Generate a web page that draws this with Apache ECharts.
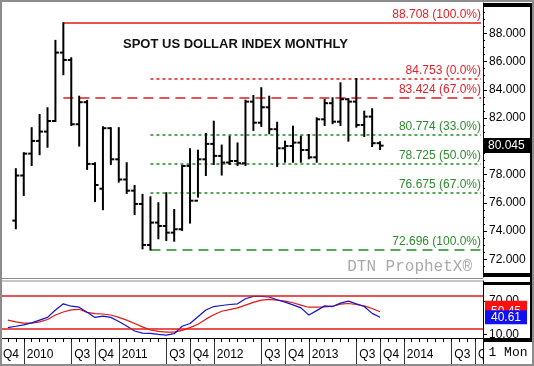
<!DOCTYPE html>
<html><head><meta charset="utf-8">
<script src="https://cdn.jsdelivr.net/npm/echarts@6/dist/echarts.min.js"></script>
<style>html,body{margin:0;padding:0;background:#fff}#c{width:534px;height:366px}</style>
</head><body><div id="c"></div>
<script>
// ---------- DATA ----------
// month categories Oct 2009 .. Nov 2014
const months = [];
(function(){ let y=2009,m=10; while(y<2014||(y===2014&&m<=11)){ months.push(y+'-'+(m<10?'0':'')+m); m++; if(m>12){m=1;y++;} } })();

const priceStart = '2009-12';   // first OHLC bar (Dec 2009 .. Oct 2013)
const priceOpen  = [74.74,77.93,79.48,80.38,81.04,81.79,86.63,86.11,81.56,83.12,78.75,77.00,81.28,79.08,77.65,76.86,75.92,73.02,74.60,74.36,73.89,74.13,78.61,76.15,79.08,80.17,79.32,78.85,78.96,78.80,83.16,81.67,82.76,81.21,79.86,80.02,80.26,79.74,79.22,81.91,83.05,81.74,83.33,83.16,81.51,82.10,80.22];
const priceHigh  = [78.38,79.51,81.28,82.22,82.69,87.46,88.708,86.23,83.51,83.21,78.80,81.35,81.28,81.28,78.80,77.19,76.56,76.39,75.97,76.68,75.49,78.61,79.79,79.69,80.87,81.74,80.05,80.68,80.20,83.23,83.56,84.11,83.51,81.67,80.33,81.39,80.68,80.80,81.98,83.28,83.40,84.46,83.33,84.753,82.45,82.62,80.28];
const priceLow   = [74.20,76.56,78.68,79.44,79.97,81.79,85.10,81.51,80.05,78.40,76.13,75.55,78.75,77.50,76.70,75.21,72.78,72.696,73.49,73.37,73.32,74.08,74.60,76.44,77.97,78.75,78.00,78.75,78.68,78.68,81.16,81.44,80.92,78.61,78.91,78.91,78.91,79.15,78.91,81.51,81.63,81.51,80.40,81.39,80.73,80.02,79.81];
const priceClose = [77.93,79.48,80.38,81.04,81.79,86.63,86.11,81.56,83.12,78.75,77.26,81.28,79.08,77.65,76.86,75.92,73.02,74.60,74.36,73.89,74.13,78.61,76.15,79.08,80.17,79.32,78.85,78.96,78.80,83.16,81.67,82.76,81.21,79.86,80.02,80.26,79.74,79.22,81.91,83.05,81.74,83.33,83.16,81.51,82.10,80.22,80.045];
const lastPrice = 80.045;

const priceTicks = [72,74,76,78,80,82,84,86,88];

const fibValues = [88.708, 84.753, 83.424, 80.774, 78.725, 76.675, 72.696];
const fibLabels = ['88.708 (100.0%)','84.753 (0.0%)','83.424 (67.0%)','80.774 (33.0%)','78.725 (50.0%)','76.675 (67.0%)','72.696 (100.0%)'];
const fibStart  = ['2010-06','2011-05','2010-06','2011-05','2011-05','2011-05','2011-05'];

const stochStart = '2009-11';   // Nov 2009 .. Oct 2013
const stochK = [22,24.4,27,30.5,35.4,40.3,53.7,64.7,60.4,58.6,49.4,40.3,42.7,40.3,33,25,15.8,12.2,11.6,9.7,8.5,11,24.4,29.3,41.5,53.7,59.8,61.7,63.5,64.7,73.9,78.2,78.2,77,72,67.8,62.9,57.4,44.6,52.5,61,59.8,66,69.6,64.7,59.8,47.6,40.61];
const stochD = [35.4,32.3,29.9,29.9,32.3,36.6,44.6,50,53.7,54.9,49.4,47,46.4,44.6,40.3,35.4,29.3,23.2,17.7,15.2,14,14,17,22,28,37.2,45.2,51.3,54.3,57.4,62.3,67.2,71.4,72.7,71.4,69.6,66.6,62.3,58.6,58.6,59.2,60.4,64.1,65.3,63.5,61,56.2,50.45];
const stochLevels = [80, 20];
const stochTicks = [10, 70];

// ---------- BUILD ----------
const FONT = '"Liberation Sans", Arial, sans-serif';
const RED = '#e3202a', REDLINE = '#e01b1b', GREEN = '#2e8b2e', GREENLINE = '#1f8a1f';

const p0 = months.indexOf(priceStart);
const ohlc = priceOpen.map((o,i)=>[p0+i, o, priceClose[i], priceLow[i], priceHigh[i]]);
const s0 = months.indexOf(stochStart);
const pad = new Array(s0).fill(null);
const kData = pad.concat(stochK);
const dData = pad.concat(stochD);
const minorTicks = [];
for (let v = priceTicks[0]-1; v <= priceTicks[priceTicks.length-1]+2; v += 0.5) if (v % 2 !== 0) minorTicks.push(v);

const fibStyle = [
  {color:REDLINE, dash:null, width:1.5, txt:RED},
  {color:REDLINE, dash:[3,3], width:1.5, txt:RED},
  {color:REDLINE, dash:[10,6], width:1.7, txt:RED},
  {color:GREENLINE, dash:[3,3], width:1.5, txt:GREEN},
  {color:GREENLINE, dash:[3,3], width:1.5, txt:GREEN},
  {color:GREENLINE, dash:[3,3], width:1.5, txt:GREEN},
  {color:GREENLINE, dash:[10,6], width:1.7, txt:GREEN}
];
const fibData = fibValues.map((v,i)=>[months.indexOf(fibStart[i]), v, i]);
const lastIdx = months.length - 1;

const isLabelMonth = (idx, val) => /-(01|07|10)$/.test(val);

const chart = echarts.init(document.getElementById('c'), null, {renderer:'canvas'});
chart.setOption({
  animation:false,
  backgroundColor:'#fff',
  title:{text:'SPOT US DOLLAR INDEX MONTHLY', left:123, top:38, padding:0,
    textStyle:{fontSize:13, fontWeight:'bold', color:'#111', fontFamily:FONT}},
  grid:[
    {left:-5, right:51, top:3, height:274},
    {left:-5, right:51, top:281, height:57},
    {left:-5, right:51, top:338, height:28}
  ],
  xAxis:[
    {type:'category', gridIndex:0, data:months, boundaryGap:false, axisLine:{show:false}, axisTick:{show:false}, axisLabel:{show:false}, splitLine:{show:false}},
    {type:'category', gridIndex:1, data:months, boundaryGap:false, axisLine:{show:true, lineStyle:{color:'#000', width:1}},
      axisTick:{show:true, length:4, interval:0, lineStyle:{color:'#000'}}, axisLabel:{show:false}, splitLine:{show:false}},
    {type:'category', gridIndex:2, data:months, boundaryGap:false, position:'top', axisLine:{show:false}, axisTick:{show:false},
      splitLine:{show:true, interval:isLabelMonth, lineStyle:{color:'#333', width:1}},
      axisLabel:{show:true, inside:true, interval:isLabelMonth, margin:11, align:'left', verticalAlign:'top', padding:[0,0,0,3],
        showMinLabel:true, showMaxLabel:true, hideOverlap:false, color:'#000', fontSize:12, fontFamily:FONT,
        formatter:(v)=>{const m=v.slice(5); return m==='01'?v.slice(0,4):(m==='07'?'Q3':'Q4');}}}
  ],
  yAxis:[
    {type:'value', gridIndex:0, position:'right', min:70.75, max:90.14, splitLine:{show:false},
      axisLine:{show:true, lineStyle:{color:'#000'}},
      axisTick:{show:true, length:4, customValues:priceTicks, lineStyle:{color:'#000'}},
      axisLabel:{show:true, customValues:priceTicks, margin:6, color:'#000', fontSize:12, fontFamily:FONT, formatter:(v)=>v.toFixed(3)}},
    {type:'value', gridIndex:0, position:'right', min:70.75, max:90.14, splitLine:{show:false},
      axisLine:{show:false}, axisTick:{show:true, length:2, customValues:minorTicks, lineStyle:{color:'#000'}},
      axisLabel:{show:false}},
    {type:'value', gridIndex:1, position:'right', min:3.3, max:105.7, splitLine:{show:false},
      axisLine:{show:true, lineStyle:{color:'#000'}},
      axisTick:{show:true, length:4, customValues:stochTicks, lineStyle:{color:'#000'}},
      axisLabel:{show:true, customValues:stochTicks, margin:6, color:'#000', fontSize:12, fontFamily:FONT, formatter:(v)=>v.toFixed(2)}},
    {type:'value', gridIndex:2, show:false}
  ],
  series:[
    {type:'custom', name:'Fib', xAxisIndex:0, yAxisIndex:0, data:fibData, encode:{x:0, y:1}, clip:false, z:1,
      renderItem:function(params, api){
        const i = api.value(2);
        const a = api.coord([api.value(0), api.value(1)]);
        const b = api.coord([lastIdx, api.value(1)]);
        const s = fibStyle[i];
        const y = Math.round(a[1]);
        return {type:'group', children:[
          {type:'line', shape:{x1:a[0], y1:y, x2:b[0]-2, y2:y}, style:{stroke:s.color, lineWidth:s.width, lineDash:s.dash}},
          {type:'text', style:{x:b[0]-2, y:y-2, text:fibLabels[i], align:'right', verticalAlign:'bottom', fill:s.txt, font:'12px '+FONT}}
        ]};
      }},
    {type:'custom', name:'USD', xAxisIndex:0, yAxisIndex:0, data:ohlc, encode:{x:0, y:[1,2,3,4]}, clip:false, z:3,
      renderItem:function(params, api){
        const x = api.value(0);
        const o = api.coord([x, api.value(1)]);
        const c = api.coord([x, api.value(2)]);
        const l = api.coord([x, api.value(3)]);
        const h = api.coord([x, api.value(4)]);
        const st = {stroke:'#000', lineWidth:2};
        const w = 3.5;
        return {type:'group', children:[
          {type:'line', shape:{x1:h[0], y1:h[1]-1, x2:l[0], y2:l[1]+1}, style:st},
          {type:'line', shape:{x1:o[0]-w, y1:o[1], x2:o[0], y2:o[1]}, style:st},
          {type:'line', shape:{x1:c[0], y1:c[1], x2:c[0]+w, y2:c[1]}, style:st}
        ]};
      },
      markLine:{symbol:'none', silent:true, animation:false, data:[
        {yAxis:lastPrice, lineStyle:{width:0, color:'rgba(0,0,0,0)'},
          label:{show:true, position:'end', distance:0, formatter:lastPrice.toFixed(3), color:'#fff', backgroundColor:'#000', padding:[2,6,1,5], fontSize:12, fontFamily:FONT}}
      ]}
    },
    {type:'line', name:'%D', xAxisIndex:1, yAxisIndex:2, data:dData, showSymbol:false, symbol:'none', connectNulls:false,
      lineStyle:{color:'#e01818', width:1.2},
      markLine:{symbol:'none', silent:true, animation:false, data:[
        {yAxis:stochLevels[0], lineStyle:{color:REDLINE, type:'solid', width:1.5}, label:{show:false}},
        {yAxis:stochLevels[1], lineStyle:{color:REDLINE, type:'solid', width:1.5}, label:{show:false}},
        {yAxis:stochD[stochD.length-1], lineStyle:{width:0, color:'rgba(0,0,0,0)'},
          label:{show:true, position:'end', distance:2, formatter:stochD[stochD.length-1].toFixed(2), color:'#fff', backgroundColor:'#ff1010', padding:[1,6,9,6], fontSize:12, fontFamily:FONT}}
      ]}},
    {type:'line', name:'%K', xAxisIndex:1, yAxisIndex:2, data:kData, showSymbol:false, symbol:'none', connectNulls:false,
      lineStyle:{color:'#1414c8', width:1.2},
      markLine:{symbol:'none', silent:true, animation:false, data:[
        {yAxis:stochK[stochK.length-1], lineStyle:{width:0, color:'rgba(0,0,0,0)'},
          label:{show:true, position:'end', distance:2, formatter:stochK[stochK.length-1].toFixed(2), color:'#fff', backgroundColor:'#1010f0', padding:[1,6,1,6], fontSize:12, fontFamily:FONT}}
      ]}}
  ],
  graphic:[
    {type:'text', z:1, style:{x:472, y:267, text:'DTN ProphetX\u00ae', align:'right', verticalAlign:'middle', fill:'#a9a9a9', font:'16px "Liberation Mono", monospace'}},
    {type:'rect', z:50, shape:{x:483, y:3, width:47, height:4}, style:{fill:'#000'}},
    {type:'rect', z:50, shape:{x:483, y:273, width:47, height:4}, style:{fill:'#000'}},
    {type:'rect', z:50, shape:{x:483, y:282, width:47, height:3}, style:{fill:'#000'}},
    {type:'rect', z:50, shape:{x:483, y:338, width:47, height:3}, style:{fill:'#000'}},
    {type:'rect', z:50, shape:{x:530, y:3, width:3, height:338}, style:{fill:'#000'}},
    {type:'line', z:50, shape:{x1:0, y1:278.5, x2:483, y2:278.5}, style:{stroke:'#8a8a8a', lineWidth:1}},
    {type:'line', z:50, shape:{x1:0, y1:281, x2:483, y2:281}, style:{stroke:'#8a8a8a', lineWidth:1}},
    {type:'rect', z:60, shape:{x:483.5, y:341.5, width:50, height:24}, style:{fill:'#fff', stroke:'#000', lineWidth:1}},
    {type:'text', z:61, style:{x:508, y:353, text:'1 Mon', align:'center', verticalAlign:'middle', fill:'#000', font:'13px "Liberation Mono", monospace'}},
    {type:'rect', z:70, shape:{x:1, y:1, width:532, height:364}, style:{fill:'none', stroke:'#8c8c8c', lineWidth:2}}
  ]
});
</script></body></html>
